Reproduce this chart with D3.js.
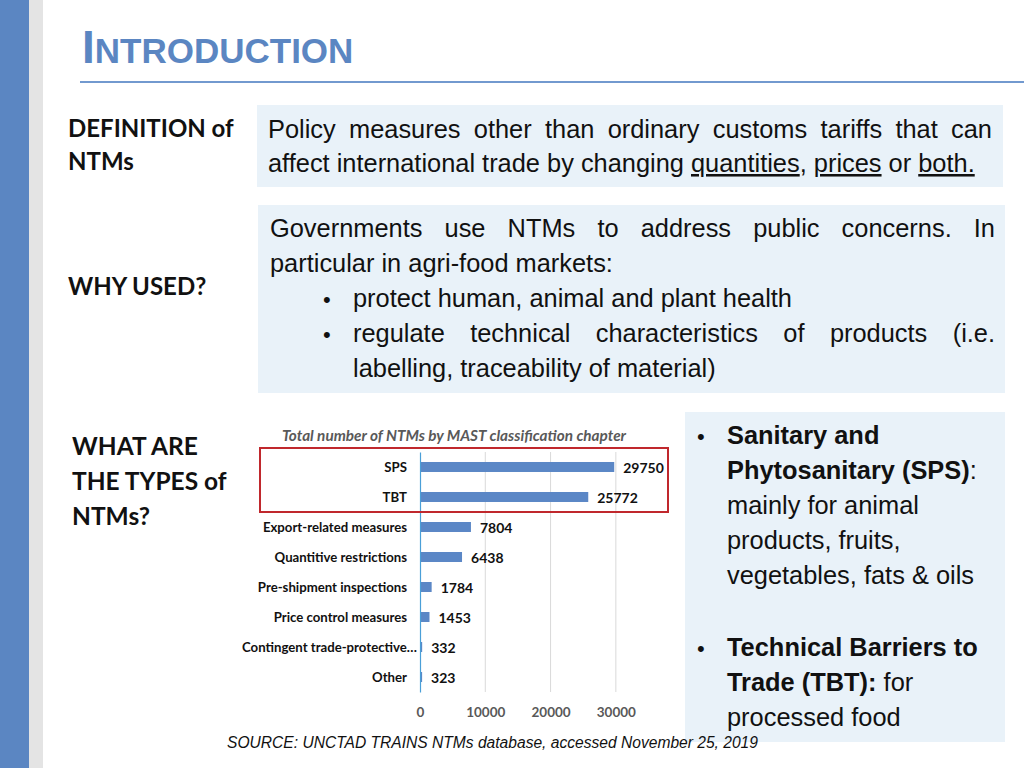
<!DOCTYPE html>
<html>
<head>
<meta charset="utf-8">
<script src="https://cdn.jsdelivr.net/npm/d3@7"></script>
<style>
  body { margin: 0; background: #fff; }
  svg { display: block; }
</style>
</head>
<body>
<div id="slide"></div>
<script>
// chart data
var categories = ["SPS", "TBT", "Export-related measures", "Quantitive restrictions",
  "Pre-shipment inspections", "Price control measures", "Contingent trade-protective\u2026", "Other"];
var counts = [29750, 25772, 7804, 6438, 1784, 1453, 332, 323];
var tickValues = [0, 10000, 20000, 30000];

var chartTitle = "Total number of NTMs by MAST classification chapter";
var sourceNote = "SOURCE: UNCTAD TRAINS NTMs database, accessed November 25, 2019";

var svgWidth = 1024;
var svgHeight = 768;

var svg = d3.select("#slide")
  .append("svg")
  .attr("width", svgWidth)
  .attr("height", svgHeight);

var blue = "#5b86c2";
var boxFill = "#e9f2f9";
var arial = "'Liberation Sans', Arial, sans-serif";
var calibri = "Lato, 'Open Sans', sans-serif";

// left strips
svg.append("rect").attr("x", 0).attr("y", 0).attr("width", 29).attr("height", svgHeight).attr("fill", blue);
svg.append("rect").attr("x", 29).attr("y", 0).attr("width", 14).attr("height", svgHeight).attr("fill", "#e4e4e4");

// title
var title = svg.append("text")
  .attr("x", 82).attr("y", 63)
  .style("font-family", arial)
  .style("font-weight", "bold")
  .attr("fill", blue);
title.append("tspan").style("font-size", "46px").text("I");
title.append("tspan").style("font-size", "35px").text("NTRODUCTION");

svg.append("line")
  .attr("x1", 80).attr("x2", 1024)
  .attr("y1", 82).attr("y2", 82)
  .attr("stroke", "#7299cf").attr("stroke-width", 2);

// left headings
var headings = [
  { t: "DEFINITION of", y: 137, x: 68 },
  { t: "NTMs", y: 170, x: 68 },
  { t: "WHY USED?", y: 295, x: 68 },
  { t: "WHAT ARE", y: 455, x: 72 },
  { t: "THE TYPES of", y: 490, x: 72 },
  { t: "NTMs?", y: 525, x: 72 }
];
svg.selectAll("text.heading")
  .data(headings)
  .enter()
  .append("text")
  .attr("class", "heading")
  .attr("x", d => d.x)
  .attr("y", d => d.y)
  .style("font-family", calibri)
  .style("font-weight", "bold")
  .style("font-size", (d, i) => i < 3 ? "24px" : "24.5px")
  .attr("fill", "#111")
  .text(d => d.t);

// text boxes
svg.append("rect").attr("x", 257).attr("y", 105).attr("width", 746).attr("height", 82).attr("fill", boxFill);
svg.append("rect").attr("x", 258).attr("y", 205).attr("width", 747).attr("height", 188).attr("fill", boxFill);
svg.append("rect").attr("x", 685).attr("y", 412).attr("width", 320).attr("height", 330).attr("fill", boxFill);

// justified line helper: stretch word spacing to fill width
function bodyLine(parts, x, y, width) {
  var t = svg.append("text")
    .attr("x", x).attr("y", y)
    .style("font-family", arial)
    .style("font-size", "25.4px")
    .attr("fill", "#111");
  parts.forEach(function(p) {
    var s = t.append("tspan").text(p.t);
    if (p.u) s.style("text-decoration", "underline");
    if (p.b) s.style("font-weight", "bold");
  });
  if (width) {
    var len = t.node().getComputedTextLength();
    var txt = parts.map(p => p.t).join("");
    var spaces = (txt.match(/ /g) || []).length;
    if (spaces > 0) t.style("word-spacing", ((width - len) / spaces) + "px");
  }
  return t;
}

function bullet(x, y) {
  svg.append("text").attr("x", x).attr("y", y)
    .style("font-family", arial).style("font-size", "22px").attr("fill", "#111")
    .text("\u2022");
}

bodyLine([{ t: "Policy measures other than ordinary customs tariffs that can" }], 268, 138, 724);
bodyLine([
  { t: "affect international trade by changing " },
  { t: "quantities", u: true }, { t: ", " },
  { t: "prices", u: true }, { t: " or " },
  { t: "both.", u: true }
], 268, 172);

bodyLine([{ t: "Governments use NTMs to address public concerns. In" }], 270, 237, 725);
bodyLine([{ t: "particular in agri-food markets:" }], 270, 272);
bullet(323, 307);
bodyLine([{ t: "protect human, animal and plant health" }], 353, 307);
bullet(323, 342);
bodyLine([{ t: "regulate technical characteristics of products (i.e." }], 353, 342, 642);
bodyLine([{ t: "labelling, traceability of material)" }], 353, 377);

bullet(697, 444);
bodyLine([{ t: "Sanitary and", b: true }], 727, 444);
bodyLine([{ t: "Phytosanitary (SPS)", b: true }, { t: ":" }], 727, 479);
bodyLine([{ t: "mainly for animal" }], 727, 514);
bodyLine([{ t: "products, fruits," }], 727, 549);
bodyLine([{ t: "vegetables, fats & oils" }], 727, 584);
bullet(697, 656);
bodyLine([{ t: "Technical Barriers to", b: true }], 727, 656);
bodyLine([{ t: "Trade (TBT):", b: true }, { t: " for" }], 727, 691);
bodyLine([{ t: "processed food" }], 727, 726);

// bar chart
var chartTop = 452, chartBottom = 692;

var xLinearScale = d3.scaleLinear()
  .domain([0, 35000])
  .range([420, 648.5]);

var yBandScale = d3.scaleBand()
  .domain(categories)
  .range([chartTop, chartBottom])
  .paddingInner(0.667)
  .paddingOuter(0.333);

var chartGroup = svg.append("g");

// gridlines
chartGroup.selectAll("line.grid")
  .data(tickValues.slice(1))
  .enter()
  .append("line")
  .attr("class", "grid")
  .attr("x1", d => xLinearScale(d)).attr("x2", d => xLinearScale(d))
  .attr("y1", chartTop).attr("y2", chartBottom)
  .attr("stroke", "#d9d9d9").attr("stroke-width", 1);

// x axis labels
var bottomAxis = d3.axisBottom(xLinearScale)
  .tickValues(tickValues)
  .tickSize(0)
  .tickPadding(0)
  .tickFormat(d3.format("d"));

var xAxisGroup = chartGroup.append("g")
  .attr("transform", `translate(0, 707)`)
  .call(bottomAxis);
xAxisGroup.select(".domain").remove();
xAxisGroup.selectAll("text")
  .style("font-family", calibri)
  .style("font-weight", "bold")
  .style("font-size", "13.5px")
  .attr("fill", "#595959");

// bars
chartGroup.selectAll("rect.bar")
  .data(counts)
  .enter()
  .append("rect")
  .attr("class", "bar")
  .attr("x", xLinearScale(0))
  .attr("y", (d, i) => yBandScale(categories[i]))
  .attr("width", d => xLinearScale(d) - xLinearScale(0))
  .attr("height", yBandScale.bandwidth())
  .attr("fill", "#5b87c6");

// y axis
var leftAxis = d3.axisLeft(yBandScale).tickSize(0).tickPadding(13);
var yAxisGroup = chartGroup.append("g")
  .attr("transform", `translate(${xLinearScale(0)}, 0)`)
  .call(leftAxis);
yAxisGroup.select(".domain")
  .attr("stroke", "#4a9fd8").attr("stroke-width", 1.2);
yAxisGroup.selectAll("text")
  .attr("dy", "0.38em")
  .style("font-family", calibri)
  .style("font-weight", "bold")
  .style("font-size", "13.2px")
  .attr("fill", "#111");
// the truncated label runs a little past the others
yAxisGroup.selectAll("text")
  .filter(d => d.indexOf("\u2026") >= 0)
  .attr("dx", 10);

// value labels
chartGroup.selectAll("text.value")
  .data(counts)
  .enter()
  .append("text")
  .attr("class", "value")
  .attr("x", d => xLinearScale(d) + 9)
  .attr("y", (d, i) => yBandScale(categories[i]) + yBandScale.bandwidth() / 2 + 6)
  .style("font-family", calibri)
  .style("font-weight", "bold")
  .style("font-size", "14px")
  .attr("fill", "#111")
  .text(d => d);

// chart title
chartGroup.append("text")
  .attr("x", 454).attr("y", 441)
  .attr("text-anchor", "middle")
  .style("font-family", calibri)
  .style("font-weight", "bold")
  .style("font-style", "italic")
  .style("font-size", "15.3px")
  .attr("fill", "#595959")
  .text(chartTitle);

// highlight box around SPS / TBT
svg.append("rect")
  .attr("x", 260).attr("y", 448)
  .attr("width", 408).attr("height", 64)
  .attr("fill", "none")
  .attr("stroke", "#c0282d").attr("stroke-width", 2);

// source
svg.append("text")
  .attr("x", 227).attr("y", 748)
  .style("font-family", arial)
  .style("font-style", "italic")
  .style("font-size", "15.6px")
  .attr("fill", "#111")
  .text(sourceNote);
</script>
</body>
</html>
